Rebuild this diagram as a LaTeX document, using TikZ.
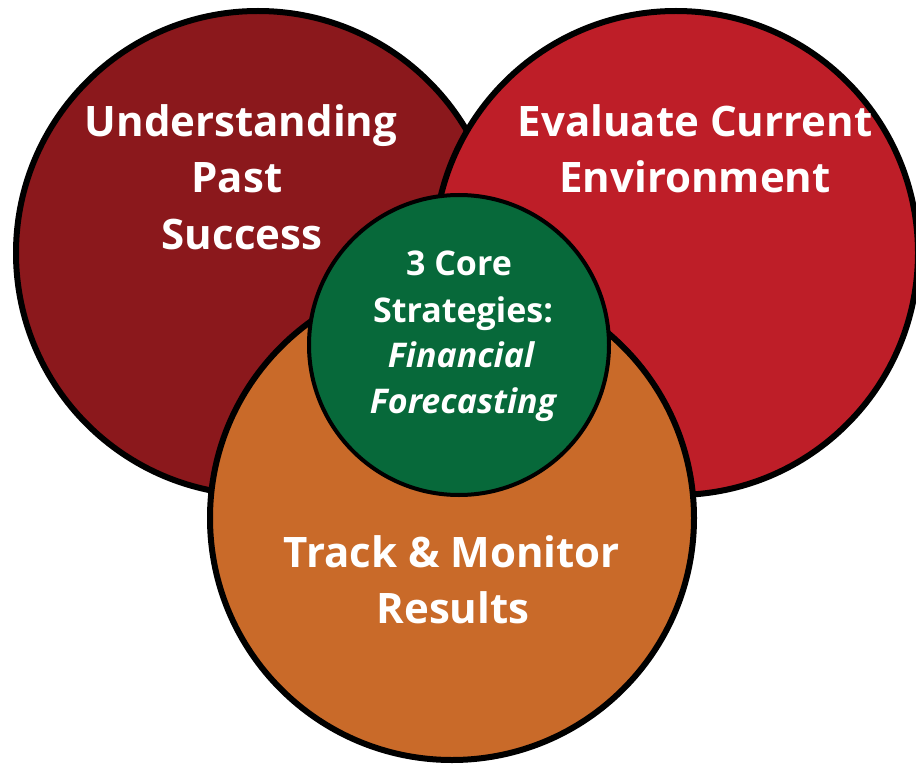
\documentclass[tikz,border=0pt]{standalone}
\usepackage{fontspec}
\setmainfont{Open Sans}
\definecolor{cpast}{HTML}{8B181C}
\definecolor{ceval}{HTML}{BE1E28}
\definecolor{ctrack}{HTML}{C96A29}
\definecolor{ccore}{HTML}{07693A}
\begin{document}
\begin{tikzpicture}[x=1pt,y=-1pt,
  ring/.style={circle,draw=black,line width=6pt,inner sep=0pt,minimum size=484pt},
  lbl/.style={text=white,font=\bfseries\fontsize{42}{50}\selectfont,anchor=base,inner sep=0pt},
  clbl/.style={text=white,font=\bfseries\fontsize{34}{40}\selectfont,anchor=base,inner sep=0pt}]
\useasboundingbox (0,0) rectangle (916,765);
\node[ring,fill=cpast] (past) at (258,253) {};
\node[ring,fill=ceval] (eval) at (676,253) {};
\node[ring,fill=ctrack] (track) at (452,518) {};
\node[circle,draw=black,line width=4pt,inner sep=0pt,minimum size=300pt,fill=ccore] (core) at (459,345) {};
% left labels
\node[lbl] (p1) at (241,137) {Understanding};
\node[lbl] (p2) at (237,193) {Past};
\node[lbl] (p3) at (242,249) {Success};
% right labels
\node[lbl] (e1) at (695,137) {Evaluate Current};
\node[lbl] (e2) at (695,193) {Environment};
% bottom labels
\node[lbl] (t1) at (452,567) {Track \& Monitor};
\node[lbl] (t2) at (453,623) {Results};
% center labels
\node[clbl] (c1) at (459,275) {3 Core};
\node[clbl] (c2) at (463,322) {Strategies:};
\node[clbl] (c3) at (461,367) {\itshape Financial};
\node[clbl] (c4) at (463,413) {\itshape Forecasting};
\end{tikzpicture}
\end{document}
